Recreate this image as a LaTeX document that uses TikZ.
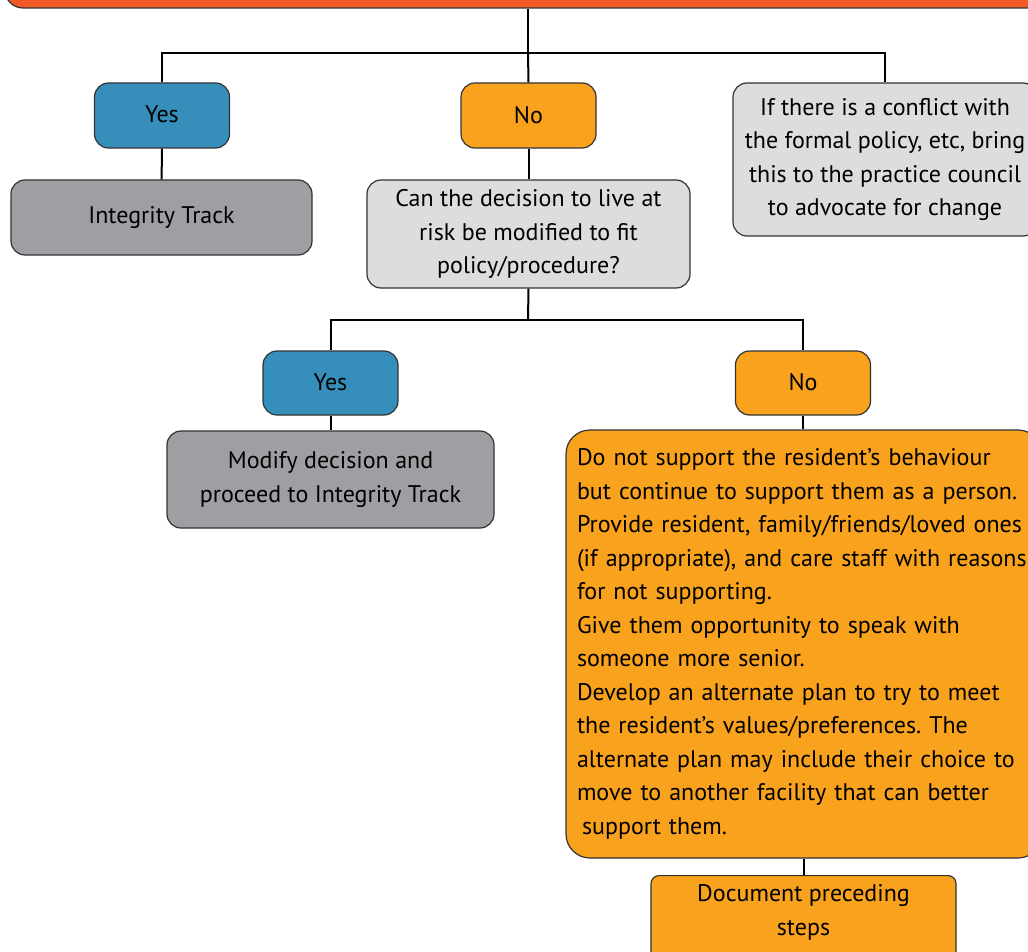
\documentclass[tikz,border=0pt]{standalone}
\usepackage{fontspec}
\setmainfont{PT Sans}
\frenchspacing
\definecolor{topred}{HTML}{F15A24}
\definecolor{yesblue}{HTML}{368FBA}
\definecolor{noorange}{HTML}{F8A21D}
\definecolor{midgray}{HTML}{9D9FA2}
\definecolor{lightgray}{HTML}{DCDDDF}
\begin{document}
\begin{tikzpicture}[x=1pt,y=1pt]
  \tikzstyle{box}=[draw=black!80, line width=1.2pt, rounded corners=14pt, align=center, inner sep=0pt, font=\fontsize{24}{33.5}\selectfont]
  \tikzstyle{answer}=[box, minimum width=135pt, minimum height=65pt, text depth=2pt]
  \tikzstyle{link}=[line width=2pt]

  \clip (0,0) rectangle (1028,-952);

  \node[box, fill=topred, rounded corners=18pt, minimum width=1046pt, minimum height=40pt] (top) at (528,12) {};

  \node[answer, fill=yesblue] (yes1) at (162,-115.5) {Yes};
  \node[answer, fill=noorange] (no1) at (528.5,-115.5) {No};
  \node[box, fill=lightgray, minimum width=304pt, minimum height=153pt] (conflict) at (885,-159.5) {If there is a conflict with\\the formal policy, etc, bring\\this to the practice council\\to advocate for change};

  \node[box, fill=midgray, minimum width=301pt, minimum height=75pt] (integrity) at (161.5,-217.5) {Integrity Track};
  \node[box, fill=lightgray, minimum width=323pt, minimum height=108pt] (question) at (528.5,-234) {Can the decision to live at\\risk be modified to fit\\policy/procedure?};

  \node[answer, fill=yesblue, minimum height=64pt] (yes2) at (330.5,-383) {Yes};
  \node[answer, fill=noorange, minimum height=64pt] (no2) at (803,-383) {No};

  \node[box, fill=midgray, minimum width=327pt, minimum height=97pt] (modify) at (330.5,-479.5) {Modify decision and\\proceed to Integrity Track};
  \node[box, fill=noorange, rounded corners=24pt, minimum width=476pt, minimum height=428pt, align=left, text width=454pt] (refuse) at (804,-644) {Do not support the resident’s behaviour\\but continue to support them as a person.\\Provide resident, family/friends/loved ones\\(if appropriate), and care staff with reasons\\for not supporting.\\Give them opportunity to speak with\\someone more senior.\\Develop an alternate plan to try to meet\\the resident’s values/preferences. The\\alternate plan may include their choice to\\move to another facility that can better\\\hspace*{5pt}support them.};

  \node[box, fill=noorange, rounded corners=8pt, anchor=north] (document) at (803.5,-875) {\parbox[c][110pt][t]{305pt}{\centering\vspace*{9pt}Document preceding\\steps}};

  \coordinate (split1) at (528,-53);
  \coordinate (split2) at (528,-320);

  \draw[link] (top.south) -- (split1);
  \draw[link] (split1) -| (yes1.north);
  \draw[link] (split1) -- (no1.north);
  \draw[link] (split1) -| (conflict.north);
  \draw[link] (yes1) -- (integrity);
  \draw[link] (no1) -- (question);
  \draw[link] (question.south) -- (split2);
  \draw[link] (split2) -| (yes2.north);
  \draw[link] (split2) -| (no2.north);
  \draw[link] (yes2) -- (modify);
  \draw[link] (no2) -- (refuse.north -| no2);
  \draw[link] (refuse.south -| document) -- (document);
\end{tikzpicture}
\end{document}
